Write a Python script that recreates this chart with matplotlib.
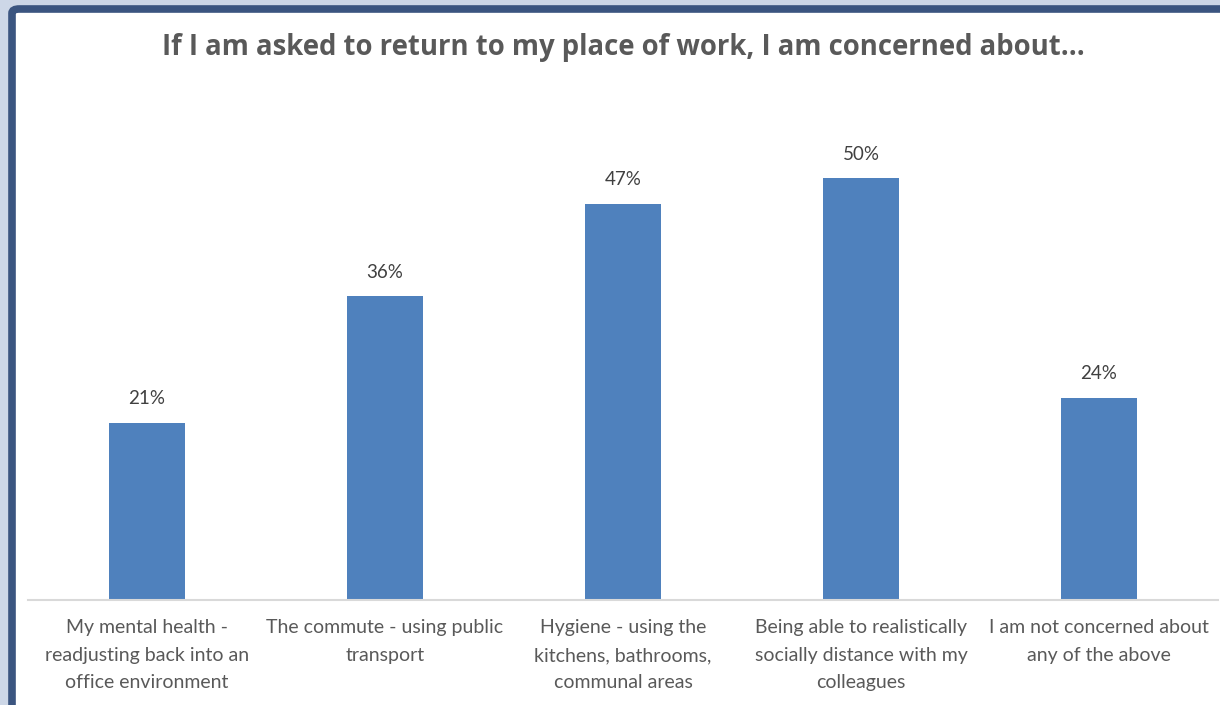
import matplotlib.pyplot as plt
from matplotlib.patches import FancyBboxPatch

# survey responses (% of respondents)
categories = [
    'My mental health -\nreadjusting back into an\noffice environment',
    'The commute - using public\ntransport',
    'Hygiene - using the\nkitchens, bathrooms,\ncommunal areas',
    'Being able to realistically\nsocially distance with my\ncolleagues',
    'I am not concerned about\nany of the above',
]
values = [21, 36, 47, 50, 24]
title = 'If I am asked to return to my place of work, I am concerned about...'

W, H = 1220, 705
fig = plt.figure(figsize=(W / 100, H / 100), dpi=100)
fig.patch.set_facecolor('#cdd7e7')

# window frame, drawn underneath the axes
frame = FancyBboxPatch((12 / W, -0.05), 1.1, (H - 9) / H + 0.05,
                       boxstyle='round,pad=0,rounding_size=0.006',
                       transform=fig.transFigure, facecolor='white',
                       edgecolor='#3b5580', linewidth=5.5, zorder=-1)
fig.patches.append(frame)

ax = fig.add_axes([28 / W, (H - 600) / H, 1190 / W, 506 / H])
ax.set_facecolor('none')
x = range(len(values))
bars = ax.bar(x, values, width=0.32, color='#4f81bd', zorder=2)
for b, v in zip(bars, values):
    ax.annotate(f'{v}%', (b.get_x() + b.get_width() / 2, v),
                xytext=(0, 17.5), textcoords='offset points', ha='center',
                va='center', fontsize=13.5, color='#404040', family='Lato')

ax.set_xlim(-0.5, 4.5)
ax.set_ylim(0, 60)
ax.set_yticks([])
ax.set_xticks(list(x))
ax.set_xticklabels(categories, fontsize=14, color='#595959', family='Lato',
                   linespacing=1.75)
ax.tick_params(axis='x', length=0, pad=14)
for s in ['top', 'right', 'left']:
    ax.spines[s].set_visible(False)
ax.spines['bottom'].set_color('#d9d9d9')
ax.spines['bottom'].set_linewidth(1.5)

fig.text(623 / W, 1 - 48 / H, title, ha='center', va='center', fontsize=19.8,
         fontweight='bold', color='#595959', family='Open Sans')

fig.savefig('out.png', dpi=100)
